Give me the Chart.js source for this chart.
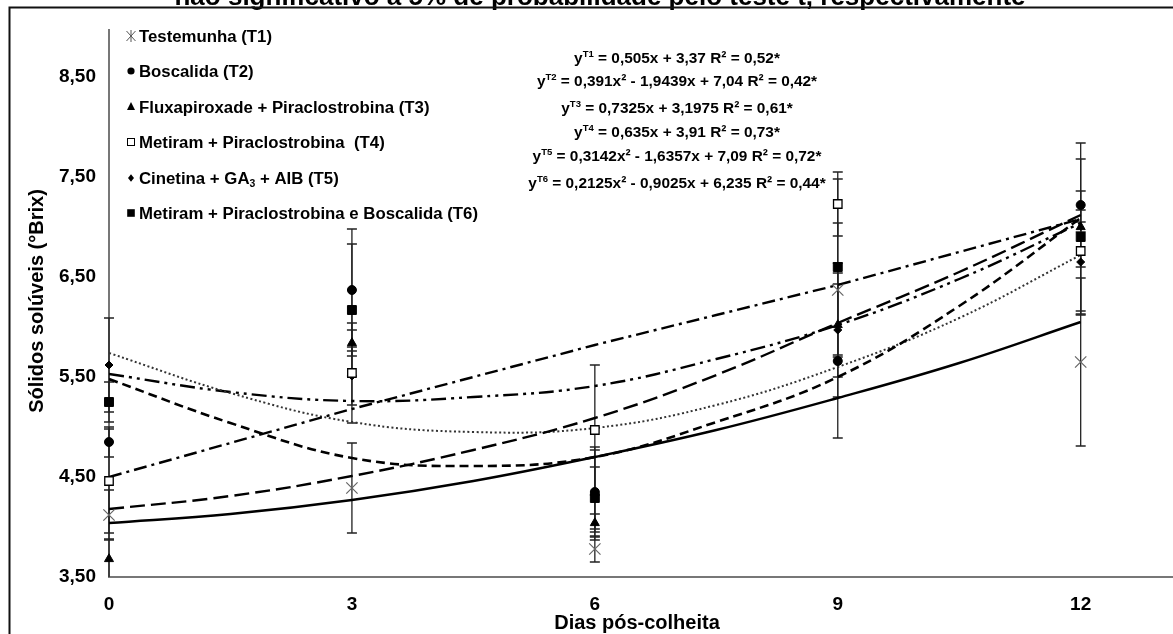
<!DOCTYPE html>
<html>
<head>
<meta charset="utf-8">
<script src="https://cdn.jsdelivr.net/npm/chart.js@4.4.1/dist/chart.umd.min.js"></script>
<style>
  html, body { margin: 0; padding: 0; background: #fff; }
  #wrap { width: 1173px; height: 634px; }
</style>
</head>
<body>
<div id="wrap"><canvas id="myChart" width="1173" height="634"></canvas></div>
<script>
// days after harvest
const xDays = [0, 3, 6, 9, 12];
const trendDays = [0, 1.5, 3, 4.5, 6, 7.5, 9, 10.5, 12];
const xTicks = [0, 3, 6, 9, 12];
const yTicks = [3.5, 4.5, 5.5, 6.5, 7.5, 8.5];

const names = [
    "Testemunha (T1)",
    "Boscalida (T2)",
    "Fluxapiroxade + Piraclostrobina (T3)",
    "Metiram + Piraclostrobina  (T4)",
    "Cinetina + GA3 + AIB (T5)",
    "Metiram + Piraclostrobina e Boscalida (T6)",
];

// means
const t1Values = [4.12, 4.39, 3.78, 6.37, 5.65];
const t2Values = [4.85, 6.37, 4.35, 5.66, 7.22];
const t3Values = [3.68, 5.84, 4.04, 6.02, 7.00];
const t4Values = [4.46, 5.54, 4.97, 7.23, 6.76];
const t5Values = [5.62, 5.51, 4.32, 5.97, 6.65];
const t6Values = [5.25, 6.17, 4.29, 6.60, 6.90];

// error bars (+/-)
const t1Errors = [0.25, 0.45, 0.13, 0.67, 0.84];
const t2Errors = [0.15, 0.61, 0.45, 0.77, 0.62];
const t3Errors = [0.20, 0.13, 0.09, 0.52, 0.05];
const t4Errors = [0.52, 0.50, 0.65, 0.32, 0.60];
const t5Errors = [0.47, 0.29, 0.45, 0.67, 0.52];
const t6Errors = [0.20, 0.66, 0.31, 0.88, 0.78];

// trend lines
const t1Trend = [4.04, 4.13, 4.27, 4.46, 4.70, 4.97, 5.29, 5.64, 6.05];
const t2Trend = [5.48, 5.04, 4.69, 4.61, 4.70, 5.05, 5.50, 6.21, 7.09];
const t3Trend = [4.18, 4.31, 4.51, 4.77, 5.09, 5.52, 6.04, 6.55, 7.12];
const t4Trend = [4.50, 4.84, 5.18, 5.50, 5.82, 6.12, 6.42, 6.75, 7.08];
const t5Trend = [5.74, 5.34, 5.05, 4.95, 4.99, 5.22, 5.60, 6.09, 6.72];
const t6Trend = [5.53, 5.35, 5.26, 5.30, 5.41, 5.68, 6.02, 6.48, 7.04];

const equations = [
    ["T1", " = 0,505x + 3,37 R\u00b2 = 0,52*"],
    ["T2", " = 0,391x\u00b2 - 1,9439x + 7,04 R\u00b2 = 0,42*"],
    ["T3", " = 0,7325x + 3,1975 R\u00b2 = 0,61*"],
    ["T4", " = 0,635x + 3,91 R\u00b2 = 0,73*"],
    ["T5", " = 0,3142x\u00b2 - 1,6357x + 7,09 R\u00b2 = 0,72*"],
    ["T6", " = 0,2125x\u00b2 - 0,9025x + 6,235 R\u00b2 = 0,44*"],
];

const values = [t1Values, t2Values, t3Values, t4Values, t5Values, t6Values];
const errors = [t1Errors, t2Errors, t3Errors, t4Errors, t5Errors, t6Errors];
const trends = [t1Trend, t2Trend, t3Trend, t4Trend, t5Trend, t6Trend];

const FONT = "'Liberation Sans', Arial, sans-serif";

const markerStyles = [
    { pointStyle: "crossRot", radius: 8, bg: "#666", border: "#666", bw: 1.2 },
    { pointStyle: "circle", radius: 4.5, bg: "#000", border: "#000", bw: 1 },
    { pointStyle: "triangle", radius: 5.2, bg: "#000", border: "#000", bw: 1 },
    { pointStyle: "rect", radius: 6, bg: "#fff", border: "#000", bw: 1.3 },
    { pointStyle: "rectRot", radius: 4, bg: "#000", border: "#000", bw: 1 },
    { pointStyle: "rect", radius: 6.3, bg: "#000", border: "#000", bw: 1 },
];

const lineStyles = [
    { dash: [], width: 2.4, color: "#000" },
    { dash: [9, 5], width: 2.6, color: "#000" },
    { dash: [15, 6], width: 2.4, color: "#000" },
    { dash: [13, 5, 3, 5], width: 2.4, color: "#000" },
    { dash: [2, 2.5], width: 2, color: "#333" },
    { dash: [15, 5, 3, 5, 3, 5], width: 2.4, color: "#000" },
];

const datasets = [];
values.forEach(function (v, i) {
    const m = markerStyles[i];
    datasets.push({
        label: names[i],
        data: xDays.map(function (d, k) { return { x: d, y: v[k] }; }),
        showLine: false,
        pointStyle: m.pointStyle,
        pointRadius: m.radius,
        pointBackgroundColor: m.bg,
        pointBorderColor: m.border,
        pointBorderWidth: m.bw,
        clip: false,
    });
});
trends.forEach(function (t, i) {
    const l = lineStyles[i];
    datasets.push({
        label: "trend " + (i + 1),
        data: trendDays.map(function (d, k) { return { x: d, y: t[k] }; }),
        showLine: true,
        pointRadius: 0,
        borderColor: l.color,
        borderWidth: l.width,
        borderDash: l.dash,
        tension: i === 3 ? 0 : 0.4,
        fill: false,
    });
});

function drawParts(ctx, parts, x, y, size, align) {
    let w = 0;
    parts.forEach(function (p) {
        ctx.font = "bold " + (p.sup || p.sub ? size * 0.62 : size) + "px " + FONT;
        p.w = ctx.measureText(p.t).width;
        w += p.w;
    });
    let cx = align === "center" ? x - w / 2 : x;
    parts.forEach(function (p) {
        ctx.font = "bold " + (p.sup || p.sub ? size * 0.62 : size) + "px " + FONT;
        let yy = y;
        if (p.sup) yy = y - size * 0.36;
        if (p.sub) yy = y + size * 0.2;
        ctx.fillText(p.t, cx, yy);
        cx += p.w;
    });
}

function legendMarker(ctx, i, x, y) {
    ctx.save();
    ctx.lineWidth = 1;
    if (i === 0) {
        ctx.strokeStyle = "#555";
        ctx.beginPath();
        ctx.moveTo(x - 4.5, y - 5); ctx.lineTo(x + 4.5, y + 5);
        ctx.moveTo(x + 4.5, y - 5); ctx.lineTo(x - 4.5, y + 5);
        ctx.moveTo(x, y - 6); ctx.lineTo(x, y + 6);
        ctx.stroke();
    } else if (i === 1) {
        ctx.fillStyle = "#000";
        ctx.beginPath(); ctx.arc(x, y, 3.6, 0, Math.PI * 2); ctx.fill();
    } else if (i === 2) {
        ctx.fillStyle = "#000";
        ctx.beginPath(); ctx.moveTo(x, y - 4.5); ctx.lineTo(x + 4, y + 3.5); ctx.lineTo(x - 4, y + 3.5); ctx.closePath(); ctx.fill();
    } else if (i === 3) {
        ctx.strokeStyle = "#000";
        ctx.strokeRect(x - 3.5, y - 3.5, 7, 7);
    } else if (i === 4) {
        ctx.fillStyle = "#000";
        ctx.beginPath(); ctx.moveTo(x, y - 3.8); ctx.lineTo(x + 3, y); ctx.lineTo(x, y + 3.8); ctx.lineTo(x - 3, y); ctx.closePath(); ctx.fill();
    } else {
        ctx.fillStyle = "#000";
        ctx.fillRect(x - 3.8, y - 3.8, 7.6, 7.6);
    }
    ctx.restore();
}

const errorBars = {
    id: "errorBars",
    beforeDatasetsDraw: function (chart) {
        const ctx = chart.ctx;
        const xs = chart.scales.x, ys = chart.scales.y, a = chart.chartArea;
        ctx.save();
        ctx.beginPath();
        ctx.rect(a.left - 10, a.top - 5, a.right - a.left + 20, a.bottom - a.top + 5);
        ctx.clip();
        ctx.strokeStyle = "#222";
        ctx.lineWidth = 1.3;
        values.forEach(function (v, i) {
            v.forEach(function (val, k) {
                const px = xs.getPixelForValue(xDays[k]);
                const top = ys.getPixelForValue(val + errors[i][k]);
                const bot = ys.getPixelForValue(val - errors[i][k]);
                ctx.beginPath();
                ctx.moveTo(px, top); ctx.lineTo(px, bot);
                ctx.moveTo(px - 5, top); ctx.lineTo(px + 5, top);
                ctx.moveTo(px - 5, bot); ctx.lineTo(px + 5, bot);
                ctx.stroke();
            });
        });
        ctx.restore();
    },
};

const texts = {
    id: "texts",
    afterDraw: function (chart) {
        const ctx = chart.ctx;
        ctx.save();
        ctx.fillStyle = "#000";
        ctx.textBaseline = "alphabetic";
        // cut off caption line above the figure
        ctx.textAlign = "center";
        ctx.font = "bold 26px " + FONT;
        ctx.fillText("n\u00e3o significativo a 5% de probabilidade pelo teste t, respectivamente", 600, 5);
        ctx.textAlign = "left";
        // frame
        ctx.strokeStyle = "#111";
        ctx.lineWidth = 2;
        ctx.beginPath();
        ctx.moveTo(9.5, 640); ctx.lineTo(9.5, 7.5); ctx.lineTo(1180, 7.5);
        ctx.stroke();
        // legend
        const rows = [36, 71, 106.5, 142, 178, 213];
        names.forEach(function (n, i) {
            legendMarker(ctx, i, 131, rows[i]);
            let parts = [{ t: n }];
            if (i === 4) parts = [{ t: "Cinetina + GA" }, { t: "3", sub: true }, { t: " + AIB (T5)" }];
            drawParts(ctx, parts, 139, rows[i] + 6, 16.8, "left");
        });
        // equations
        const eqRows = [57, 80, 107, 131, 155, 182];
        equations.forEach(function (e, i) {
            drawParts(ctx, [{ t: "y" }, { t: e[0], sup: true }, { t: e[1] }], 677, eqRows[i] + 5.5, 15.4, "center");
        });
        // axis titles
        ctx.textAlign = "center";
        ctx.font = "bold 20px " + FONT;
        ctx.fillText("Dias p\u00f3s-colheita", 637, 629);
        ctx.translate(43, 301);
        ctx.rotate(-Math.PI / 2);
        ctx.fillText("S\u00f3lidos sol\u00faveis (\u00b0Brix)", 0, 0);
        ctx.restore();
    },
};

const config = {
    type: "scatter",
    data: { datasets: datasets },
    options: {
        responsive: false,
        animation: false,
        devicePixelRatio: 1,
        layout: { autoPadding: false, padding: { top: 30, left: 0, right: 0, bottom: 0 } },
        plugins: {
            legend: { display: false },
            tooltip: { enabled: false },
            title: { display: false },
        },
        scales: {
            x: {
                type: "linear",
                min: 0,
                max: 13.14,
                afterBuildTicks: function (scale) {
                    scale.ticks = xTicks.map(function (v) { return { value: v }; });
                },
                afterFit: function (scale) {
                    scale.height = 57;
                    scale.paddingLeft = 0;
                    scale.paddingRight = 0;
                },
                grid: { display: false, drawTicks: false },
                border: { display: true, color: "#777", width: 2 },
                ticks: {
                    color: "#000",
                    padding: 16,
                    maxRotation: 0,
                    font: { family: FONT, size: 19, weight: "bold" },
                },
            },
            y: {
                type: "linear",
                min: 3.5,
                max: 8.97,
                afterBuildTicks: function (scale) {
                    scale.ticks = yTicks.map(function (v) { return { value: v }; });
                },
                afterFit: function (scale) {
                    scale.width = 109;
                    scale.paddingTop = 0;
                    scale.paddingBottom = 0;
                },
                grid: { display: false, drawTicks: false },
                border: { display: true, color: "#777", width: 2 },
                ticks: {
                    color: "#000",
                    padding: 13,
                    font: { family: FONT, size: 19, weight: "bold" },
                    callback: function (v) { return v.toFixed(2).replace(".", ","); },
                },
            },
        },
    },
    plugins: [errorBars, texts],
};

var myChart = new Chart(document.getElementById("myChart"), config);
</script>
</body>
</html>
